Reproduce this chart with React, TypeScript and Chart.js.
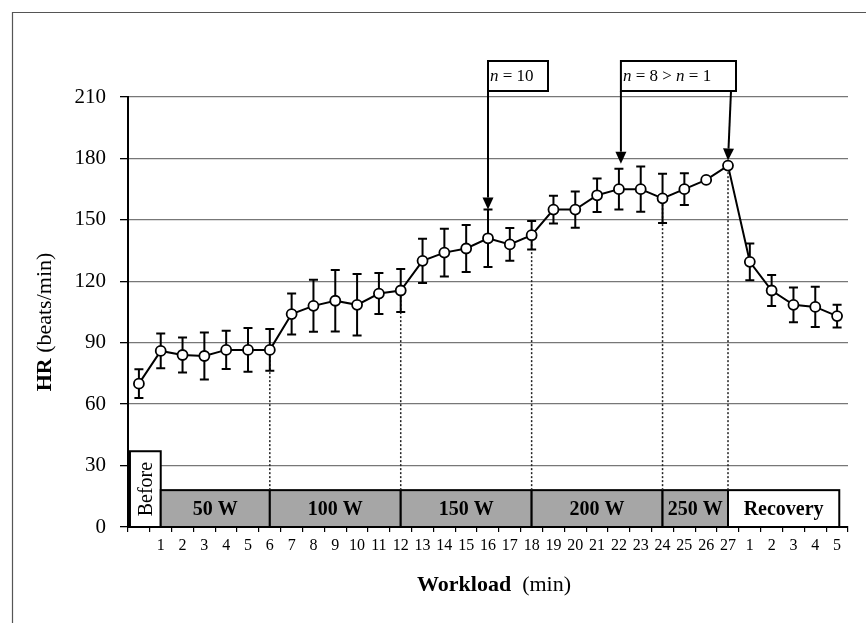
import { useEffect, useRef } from "react";
import { Chart, registerables } from "chart.js";

Chart.register(...registerables);

// ---- data ----
const xLabels = [
  "", "1", "2", "3", "4", "5", "6", "7", "8", "9", "10", "11", "12", "13", "14", "15", "16", "17",
  "18", "19", "20", "21", "22", "23", "24", "25", "26", "27", "1", "2", "3", "4", "5",
];
const hrMean = [
  70, 86, 84, 83.5, 86.5, 86.5, 86.5, 104, 108, 110.5, 108.5, 114, 115.5, 130, 134, 136, 141, 138,
  142.5, 155, 155, 162, 165, 165, 160.5, 165, 169.5, 176.5, 129.5, 115.5, 108.5, 107.5, 103,
];
const hrSD: (number | null)[] = [
  7, 8.5, 8.5, 11.5, 9.3, 10.7, 10.2, 10, 12.7, 15, 15, 10, 10.5, 10.8, 11.7, 11.5, 14, 8, 7, 6.8,
  8.8, 8.2, 10, 11, 12, 7.8, null, null, 9, 7.6, 8.5, 9.8, 5.6,
];
const yTicksMin = 0;
const yTicksMax = 210;
const yTickStep = 30;

const phaseNames = ["Before", "50 W", "100 W", "150 W", "200 W", "250 W", "Recovery"];
const phaseFrom = [-0.41, 1, 6, 12, 18, 24, 27];
const phaseTo = [1, 6, 12, 18, 24, 27, 32.1];
const phaseTop = [37, 18, 18, 18, 18, 18, 18];
const phaseBoundaries = [6, 12, 18, 24, 27];

const note1Runs: [string, boolean][] = [["n", true], [" = 10", false]];
const note2Runs: [string, boolean][] = [["n", true], [" = 8 ", false], ["> ", false], ["n", true], [" = 1", false]];
const note1Target = 16;
const note2Targets = [22, 27];

const FONT = "'Liberation Serif', 'Times New Roman', serif";

function drawRuns(
  ctx: CanvasRenderingContext2D,
  runs: [string, string][],
  x: number,
  y: number,
  align: "left" | "center"
) {
  let total = 0;
  const widths = runs.map(([t, f]) => {
    ctx.font = f;
    const w = ctx.measureText(t).width;
    total += w;
    return w;
  });
  let cx = align === "center" ? x - total / 2 : x;
  ctx.textAlign = "left";
  ctx.textBaseline = "middle";
  runs.forEach(([t, f], i) => {
    ctx.font = f;
    ctx.fillText(t, cx, y);
    cx += widths[i];
  });
}

function arrow(ctx: CanvasRenderingContext2D, x1: number, y1: number, x2: number, y2: number) {
  const head = 12;
  const half = 5.5;
  const ang = Math.atan2(y2 - y1, x2 - x1);
  const bx = x2 - head * Math.cos(ang);
  const by = y2 - head * Math.sin(ang);
  ctx.beginPath();
  ctx.moveTo(x1, y1);
  ctx.lineTo(bx, by);
  ctx.lineWidth = 2;
  ctx.strokeStyle = "#000";
  ctx.stroke();
  ctx.beginPath();
  ctx.moveTo(x2, y2);
  ctx.lineTo(bx + half * Math.sin(ang), by - half * Math.cos(ang));
  ctx.lineTo(bx - half * Math.sin(ang), by + half * Math.cos(ang));
  ctx.closePath();
  ctx.fillStyle = "#000";
  ctx.fill();
}

const overlayPlugin = {
  id: "overlay",
  beforeDatasetsDraw(chart: any) {
    const { ctx } = chart;
    const x = chart.scales.x;
    const y = chart.scales.y;
    ctx.save();
    // phase boxes
    phaseNames.forEach((name, i) => {
      const l = x.getPixelForValue(phaseFrom[i]);
      const r = x.getPixelForValue(phaseTo[i]);
      const t = y.getPixelForValue(phaseTop[i]);
      const b = y.getPixelForValue(0);
      const white = i === 0 || i === phaseNames.length - 1;
      ctx.fillStyle = white ? "#ffffff" : "#a6a6a6";
      ctx.fillRect(l, t, r - l, b - t);
      ctx.strokeStyle = "#000";
      ctx.lineWidth = 2;
      ctx.strokeRect(l, t, r - l, b - t);
      ctx.fillStyle = "#000";
      if (i === 0) {
        ctx.save();
        ctx.translate((l + r) / 2 + 1, (t + b) / 2);
        ctx.rotate(-Math.PI / 2);
        ctx.font = `20px ${FONT}`;
        ctx.textAlign = "center";
        ctx.textBaseline = "middle";
        ctx.fillText(name, 0, 0);
        ctx.restore();
      } else {
        ctx.font = `bold 20px ${FONT}`;
        ctx.textAlign = "center";
        ctx.textBaseline = "middle";
        ctx.fillText(name, (l + r) / 2, (t + b) / 2 + 1);
      }
    });
    // dotted boundary lines
    ctx.setLineDash([2, 2]);
    ctx.lineWidth = 1.5;
    ctx.strokeStyle = "#222";
    phaseBoundaries.forEach((idx) => {
      const px = x.getPixelForValue(idx);
      ctx.beginPath();
      ctx.moveTo(px, y.getPixelForValue(phaseTop[1]));
      ctx.lineTo(px, y.getPixelForValue(hrMean[idx]));
      ctx.stroke();
    });
    ctx.setLineDash([]);
    // error bars
    ctx.strokeStyle = "#000";
    ctx.lineWidth = 2;
    hrMean.forEach((m, i) => {
      const sd = hrSD[i];
      if (sd == null) return;
      const px = x.getPixelForValue(i);
      const top = y.getPixelForValue(m + sd);
      const bot = y.getPixelForValue(m - sd);
      ctx.beginPath();
      ctx.moveTo(px, top);
      ctx.lineTo(px, bot);
      ctx.moveTo(px - 4.5, top);
      ctx.lineTo(px + 4.5, top);
      ctx.moveTo(px - 4.5, bot);
      ctx.lineTo(px + 4.5, bot);
      ctx.stroke();
    });
    ctx.restore();
  },
  afterDraw(chart: any) {
    const { ctx, chartArea } = chart;
    const x = chart.scales.x;
    const y = chart.scales.y;
    ctx.save();
    // frame
    ctx.strokeStyle = "#555";
    ctx.lineWidth = 1.2;
    ctx.beginPath();
    ctx.moveTo(12.5, 623);
    ctx.lineTo(12.5, 12.5);
    ctx.lineTo(866, 12.5);
    ctx.stroke();

    // annotation boxes
    const boxB = chartArea.top - 6;
    const boxT = chartArea.top - 36;
    const normal = `17px ${FONT}`;
    const italic = `italic 17px ${FONT}`;
    // box 1
    const b1l = x.getPixelForValue(note1Target);
    const b1r = b1l + 60;
    ctx.fillStyle = "#fff";
    ctx.fillRect(b1l, boxT, b1r - b1l, boxB - boxT);
    ctx.strokeStyle = "#000";
    ctx.lineWidth = 2;
    ctx.strokeRect(b1l, boxT, b1r - b1l, boxB - boxT);
    ctx.fillStyle = "#000";
    drawRuns(
      ctx,
      note1Runs.map(([t, it]) => [t, it ? italic : normal]),
      b1l + 2,
      (boxT + boxB) / 2 + 1,
      "left"
    );
    arrow(
      ctx,
      b1l,
      boxB,
      b1l,
      y.getPixelForValue(hrMean[note1Target] + (hrSD[note1Target] || 0))
    );
    // box 2
    const b2l = x.getPixelForValue(note2Targets[0]) + 2;
    const b2r = x.getPixelForValue(note2Targets[1]) + 8;
    ctx.fillStyle = "#fff";
    ctx.fillRect(b2l, boxT, b2r - b2l, boxB - boxT);
    ctx.strokeStyle = "#000";
    ctx.lineWidth = 2;
    ctx.strokeRect(b2l, boxT, b2r - b2l, boxB - boxT);
    ctx.fillStyle = "#000";
    drawRuns(
      ctx,
      note2Runs.map(([t, it]) => [t, it ? italic : normal]),
      b2l + 2,
      (boxT + boxB) / 2 + 1,
      "left"
    );
    const t0 = note2Targets[0];
    const t1 = note2Targets[1];
    arrow(
      ctx,
      b2l,
      boxB,
      b2l,
      y.getPixelForValue(hrMean[t0] + (hrSD[t0] || 0)) - 5
    );
    arrow(
      ctx,
      x.getPixelForValue(t1) + 3,
      boxB,
      x.getPixelForValue(t1),
      y.getPixelForValue(hrMean[t1]) - 5
    );

    // axis titles
    ctx.fillStyle = "#000";
    drawRuns(
      ctx,
      [
        ["Workload", `bold 22px ${FONT}`],
        ["  (min)", `22px ${FONT}`],
      ],
      (chartArea.left + chartArea.right) / 2 + 6,
      585,
      "center"
    );
    ctx.save();
    ctx.translate(45, (chartArea.top + chartArea.bottom) / 2 + 10);
    ctx.rotate(-Math.PI / 2);
    drawRuns(
      ctx,
      [
        ["HR", `bold 22px ${FONT}`],
        [" (beats/min)", `22px ${FONT}`],
      ],
      0,
      0,
      "center"
    );
    ctx.restore();
    ctx.restore();
  },
};

export default function App() {
  const ref = useRef<HTMLCanvasElement>(null);
  useEffect(() => {
    if (!ref.current) return;
    const chart = new Chart(ref.current, {
      type: "line",
      data: {
        labels: xLabels,
        datasets: [
          {
            data: hrMean,
            borderColor: "#000",
            borderWidth: 2,
            pointRadius: 5,
            pointBackgroundColor: "#fff",
            pointBorderColor: "#000",
            pointBorderWidth: 1.8,
            tension: 0,
          },
        ],
      },
      options: {
        responsive: false,
        animation: false,
        layout: { padding: { left: 68, top: 97, right: 18, bottom: 56 } },
        plugins: { legend: { display: false }, tooltip: { enabled: false } },
        scales: {
          x: {
            type: "category",
            offset: true,
            grid: {
              offset: true,
              drawOnChartArea: false,
              tickLength: 5,
              color: "#000",
              lineWidth: 1.2,
            },
            border: { display: true, color: "#000", width: 2 },
            ticks: {
              font: { family: FONT, size: 16 },
              color: "#000",
              padding: 4,
              maxRotation: 0,
              autoSkip: false,
            },
            afterFit(scale: any) {
              scale.height = 40;
            },
          },
          y: {
            min: yTicksMin,
            max: yTicksMax,
            ticks: {
              stepSize: yTickStep,
              font: { family: FONT, size: 21 },
              color: "#000",
              padding: 14,
            },
            grid: {
              color: "#777",
              lineWidth: 1.3,
              tickLength: 8,
              tickColor: "#000",
            },
            border: { display: true, color: "#000", width: 2 },
            afterFit(scale: any) {
              scale.width = 60;
            },
          },
        },
      },
      plugins: [overlayPlugin],
    });
    return () => chart.destroy();
  }, []);
  return (
    <div style={{ position: "fixed", left: 0, top: 0, width: 866, height: 623, background: "#fff" }}>
      <canvas ref={ref} width={866} height={623} style={{ display: "block" }} />
    </div>
  );
}
